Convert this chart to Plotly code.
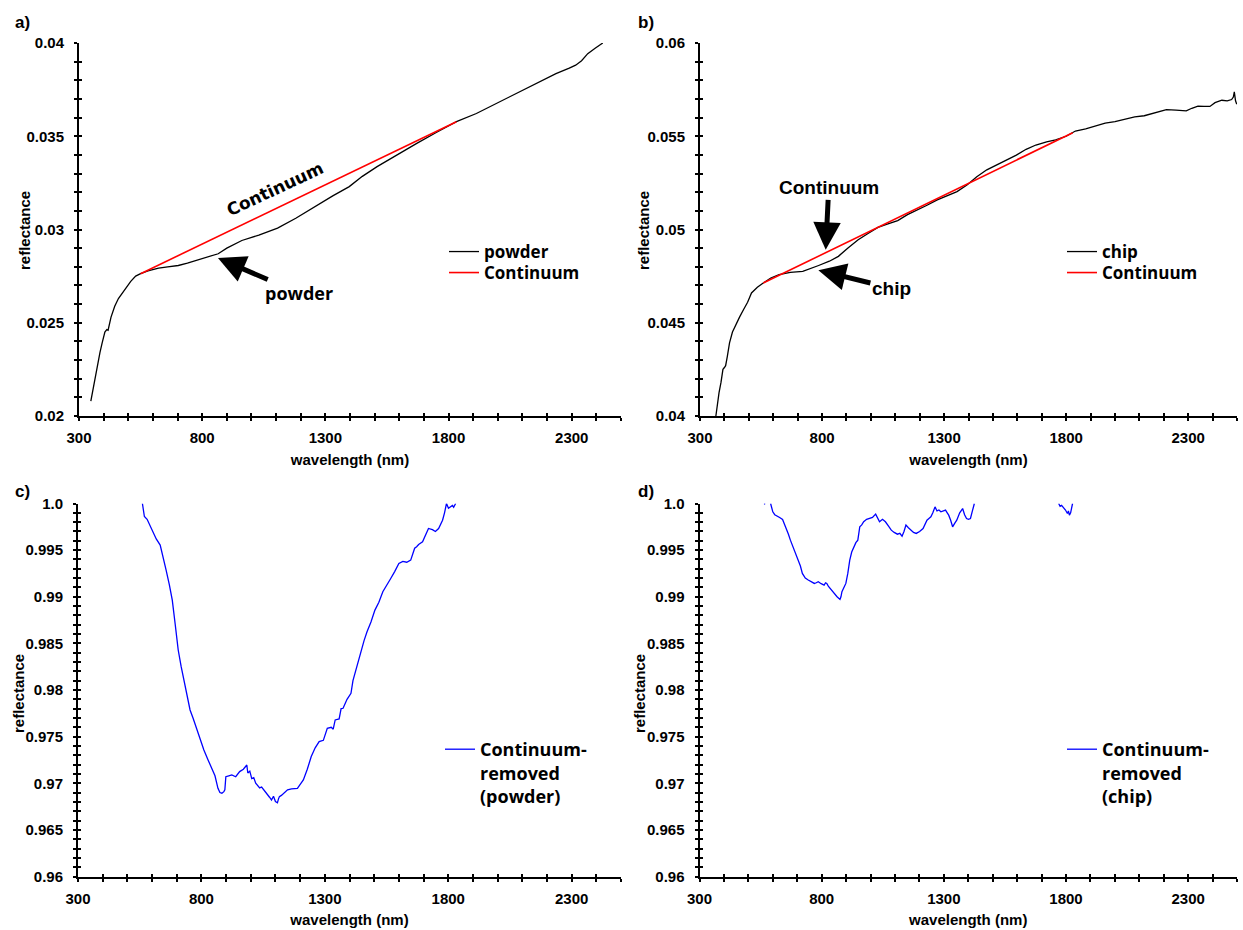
import plotly.graph_objects as go

# ---------------- data ----------------
# a) powder spectrum
powder_nm = [348, 360, 373, 385, 394, 405, 413, 418, 430, 445, 460, 477, 495, 510, 530, 550,
             580, 623, 660, 703, 740, 784, 820, 865, 900, 961, 1030, 1106, 1180, 1268, 1330,
             1397, 1450, 1510, 1590, 1671, 1750, 1832, 1913, 2000, 2074, 2150, 2236, 2290,
             2316, 2340, 2365, 2395, 2426]
powder_refl = [0.0208, 0.0217, 0.02267, 0.0234, 0.02392, 0.0245, 0.02463, 0.0246, 0.0253,
               0.02588, 0.0263, 0.0266, 0.0269, 0.02722, 0.0275, 0.02763, 0.02778, 0.02793,
               0.02800, 0.02807, 0.02820, 0.02838, 0.02852, 0.02870, 0.02900, 0.02941,
               0.02970, 0.03007, 0.03060, 0.03132, 0.03180, 0.03230, 0.03285, 0.03337,
               0.03400, 0.03462, 0.03520, 0.03578, 0.03622, 0.03680, 0.03729, 0.03780,
               0.03836, 0.03865, 0.03881, 0.03905, 0.03943, 0.03972, 0.04000]
cont_a_nm = [550, 1832]
cont_a_refl = [0.02763, 0.03578]

# b) chip spectrum
chip_nm = [365, 372, 378, 386, 394, 400, 405, 412, 421, 433, 446, 462, 478, 495, 511, 535,
           559, 590, 624, 670, 721, 755, 786, 830, 867, 905, 948, 990, 1029, 1070, 1110,
           1150, 1191, 1230, 1272, 1310, 1353, 1395, 1434, 1475, 1515, 1555, 1596, 1636,
           1676, 1720, 1757, 1800, 1838, 1880, 1919, 1960, 2000, 2040, 2081, 2120, 2162,
           2211, 2250, 2292, 2315, 2340, 2365, 2389, 2410, 2438, 2460, 2478, 2485, 2489,
           2494, 2499]
chip_refl = [0.0400, 0.0408, 0.04125, 0.0418, 0.0425, 0.0426, 0.0427, 0.0432, 0.04392,
             0.0445, 0.0449, 0.0453, 0.0457, 0.0461, 0.0466, 0.0469, 0.04713, 0.0474,
             0.04758, 0.0477, 0.04775, 0.0479, 0.04807, 0.0483, 0.04856, 0.0490, 0.04945,
             0.0498, 0.05011, 0.0503, 0.05048, 0.0508, 0.05105, 0.0513, 0.05159, 0.0518,
             0.05203, 0.0524, 0.05283, 0.0532, 0.05346, 0.0537, 0.05399, 0.0543, 0.05453,
             0.0547, 0.05480, 0.0550, 0.05528, 0.0554, 0.05554, 0.0557, 0.05578, 0.0559,
             0.05604, 0.0561, 0.05626, 0.05643, 0.0564, 0.05636, 0.0565, 0.05661, 0.0566,
             0.0566, 0.0568, 0.05693, 0.0569, 0.05697, 0.0571, 0.05738, 0.0569, 0.05672]
cont_b_nm = [559, 1827]
cont_b_refl = [0.04713, 0.05519]

# c) continuum-removed (powder)
crp_nm = [561, 565, 569, 580, 593, 605, 617, 633, 645, 657, 670, 682, 694, 706, 718, 730,
          742, 754, 766, 778, 794, 810, 827, 843, 855, 867, 875, 883, 891, 895, 899, 911,
          923, 939, 955, 970, 978, 984, 988, 996, 1004, 1012, 1020, 1028, 1036, 1044, 1052,
          1060, 1068, 1076, 1084, 1092, 1100, 1108, 1112, 1116, 1124, 1132, 1149, 1165,
          1189, 1201, 1213, 1229, 1245, 1261, 1277, 1294, 1310, 1326, 1334, 1342, 1358,
          1366, 1374, 1390, 1406, 1414, 1422, 1434, 1447, 1459, 1471, 1487, 1503, 1519,
          1535, 1551, 1567, 1583, 1600, 1616, 1632, 1648, 1656, 1664, 1672, 1680, 1696,
          1704, 1712, 1720, 1736, 1748, 1761, 1769, 1777, 1785, 1793, 1801, 1809, 1817,
          1822, 1830]
crp_refl = [1.0000, 0.99893, 0.99860, 0.99830, 0.99760, 0.99700, 0.99620, 0.99554, 0.99430,
            0.99286, 0.99130, 0.98964, 0.98700, 0.98429, 0.98250, 0.98107, 0.97950, 0.97786,
            0.97700, 0.97607, 0.97480, 0.97357, 0.97250, 0.97143, 0.97080, 0.96946, 0.96900,
            0.96893, 0.96910, 0.96929, 0.97071, 0.97080, 0.97089, 0.97070, 0.97125, 0.97150,
            0.97180, 0.97196, 0.97110, 0.97130, 0.97050, 0.97060, 0.97000, 0.96980, 0.96950,
            0.96960, 0.96929, 0.96900, 0.96880, 0.96850, 0.96821, 0.96860, 0.96804, 0.96790,
            0.96830, 0.96857, 0.96870, 0.96890, 0.96929, 0.96940, 0.96946, 0.96990, 0.97036,
            0.97150, 0.97286, 0.97380, 0.97446, 0.97460, 0.97589, 0.97600, 0.97580, 0.97679,
            0.97690, 0.97800, 0.97804, 0.97900, 0.97964, 0.98100, 0.98179, 0.98300, 0.98429,
            0.98530, 0.98625, 0.98730, 0.98857, 0.98940, 0.99054, 0.99120, 0.99196, 0.99270,
            0.99357, 0.99380, 0.99370, 0.99393, 0.99470, 0.99520, 0.99536, 0.99560, 0.99589,
            0.99640, 0.99700, 0.99732, 0.99720, 0.99700, 0.99732, 0.99780, 0.99821, 0.99900,
            1.00000, 0.99950, 0.99964, 0.99980, 0.99960, 1.00000]

# d) continuum-removed (chip); None marks the parts lying above 1.0
crc_nm = [565, 568, None, 591, 600, 608, 616, 628, 640, 648, 656, 664, 672, 680, 689, 697,
          705, 713, 721, 733, 745, 758, 770, 778, 786, 798, 810, 816, 821, 828, 834, 843,
          851, 863, 875, 879, 883, 891, 899, 907, 915, 923, 932, 940, 948, 956, 964, 972,
          984, 996, 1008, 1021, 1029, 1037, 1049, 1061, 1073, 1085, 1097, 1110, 1120, 1129,
          1137, 1145, 1155, 1166, 1176, 1187, 1201, 1215, 1223, 1231, 1239, 1247, 1255,
          1264, 1272, 1280, 1288, 1298, 1307, 1314, 1320, 1328, 1336, 1345, 1353, 1365,
          1377, 1385, 1393, 1401, 1409, 1417, 1425, None, 1770, 1776, 1782, 1790, 1798,
          1806, 1810, 1814, 1819, 1823, 1827]
crc_refl = [1.0000, 0.9999, None, 1.0000, 0.99911, 0.99880, 0.99864, 0.99850, 0.99829,
            0.99780, 0.99732, 0.99670, 0.99607, 0.99550, 0.99500, 0.99450, 0.99393, 0.99330,
            0.99250, 0.99200, 0.99179, 0.99160, 0.99143, 0.99150, 0.99161, 0.99140, 0.99125,
            0.99150, 0.99143, 0.99110, 0.99089, 0.99060, 0.99036, 0.99000, 0.98971, 0.99000,
            0.99054, 0.99100, 0.99143, 0.99250, 0.99393, 0.99480, 0.99536, 0.99580, 0.99607,
            0.99750, 0.99770, 0.99804, 0.99830, 0.99839, 0.99850, 0.99886, 0.99840, 0.99804,
            0.99830, 0.99804, 0.99760, 0.99714, 0.99690, 0.99671, 0.99680, 0.99650, 0.99700,
            0.99768, 0.99740, 0.99714, 0.99690, 0.99679, 0.99700, 0.99732, 0.99780, 0.99821,
            0.99840, 0.99857, 0.99900, 0.99964, 0.99920, 0.99930, 0.99911, 0.99920, 0.99929,
            0.99900, 0.99875, 0.99820, 0.99750, 0.99790, 0.99821, 0.99900, 0.99946, 0.99880,
            0.99839, 0.99830, 0.99839, 0.99920, 1.00000, None, 1.0000, 0.99970, 0.99980,
            0.99960, 0.99930, 0.99893, 0.99920, 0.99875, 0.99900, 0.99950, 1.00000]

x_range = [300, 2500]
x_major_ticks = [300, 800, 1300, 1800, 2300]
y_ranges = {1: [0.02, 0.04], 2: [0.04, 0.06], 3: [0.96, 1.0], 4: [0.96, 1.0]}
y_tick_vals = {
    1: [0.02, 0.025, 0.03, 0.035, 0.04],
    2: [0.04, 0.045, 0.05, 0.055, 0.06],
    3: [0.96, 0.965, 0.97, 0.975, 0.98, 0.985, 0.99, 0.995, 1.0],
    4: [0.96, 0.965, 0.97, 0.975, 0.98, 0.985, 0.99, 0.995, 1.0],
}
y_tick_text = {
    1: ["0.02", "0.025", "0.03", "0.035", "0.04"],
    2: ["0.04", "0.045", "0.05", "0.055", "0.06"],
    3: ["0.96", "0.965", "0.97", "0.975", "0.98", "0.985", "0.99", "0.995", "1.0"],
    4: ["0.96", "0.965", "0.97", "0.975", "0.98", "0.985", "0.99", "0.995", "1.0"],
}
y_minor = {1: 0.001, 2: 0.001, 3: 0.001, 4: 0.001}
panel_letters = ["a)", "b)", "c)", "d)"]

# ---------------- layout geometry ----------------
W, H = 1243, 930
def px_x(a, b):
    return [a / W, b / W]
def px_y(top, bottom):
    return [(H - bottom) / H, (H - top) / H]

x_domains = {1: px_x(79, 621), 2: px_x(700, 1237), 3: px_x(78, 621), 4: px_x(699.5, 1237)}
y_domains = {1: px_y(43, 416), 2: px_y(43, 416), 3: px_y(503.5, 876.5), 4: px_y(503.5, 876.5)}
y_title_pos = {1: (24, 231), 2: (643, 231), 3: (18, 694), 4: (639, 694)}
letter_pos = {1: (22, 22), 2: (646, 22), 3: (22, 491), 4: (646, 491)}

ARIAL = "Liberation Sans, Arial, sans-serif"
SEGOE = "Open Sans, Noto Sans, sans-serif"
TICK_FONT = dict(family=ARIAL, size=15, color="black", weight="bold")
TITLE_FONT = dict(family=ARIAL, size=15, color="black", weight="bold")
LEG_FONT = dict(family=SEGOE, size=17, color="black", weight="bold")
LEG_FONT_ML = dict(family=SEGOE, size=18, color="black", weight="bold")

fig = go.Figure()

def add(xs, ys, color, name, idx, legend, width=1.3):
    fig.add_trace(go.Scatter(
        x=xs, y=ys, mode="lines", name=name,
        line=dict(color=color, width=width),
        xaxis="x" if idx == 1 else f"x{idx}",
        yaxis="y" if idx == 1 else f"y{idx}",
        legend=legend, showlegend=True, connectgaps=False,
    ))

add(powder_nm, powder_refl, "black", "powder", 1, "legend")
add(cont_a_nm, cont_a_refl, "#ff0000", "Continuum", 1, "legend2", width=1.6)
add(chip_nm, chip_refl, "black", "chip", 2, "legend3")
add(cont_b_nm, cont_b_refl, "#ff0000", "Continuum", 2, "legend4", width=1.6)
add(crp_nm, crp_refl, "#0000ff", "Continuum-<br>removed<br>(powder)", 3, "legend5")
add(crc_nm, crc_refl, "#0000ff", "Continuum-<br>removed<br>(chip)", 4, "legend6")

# empty carriers for the inside half of the crossing ticks
for i in range(1, 5):
    j = i + 4
    fig.add_trace(go.Scatter(x=[], y=[], xaxis=f"x{j}", yaxis=f"y{j}",
                             showlegend=False, hoverinfo="skip"))

layout = dict(
    width=W, height=H, margin=dict(l=0, r=0, t=0, b=0, autoexpand=False),
    paper_bgcolor="white", plot_bgcolor="white",
)

for i in range(1, 5):
    xn = "xaxis" if i == 1 else f"xaxis{i}"
    yn = "yaxis" if i == 1 else f"yaxis{i}"
    xa = "x" if i == 1 else f"x{i}"
    ya = "y" if i == 1 else f"y{i}"
    layout[xn] = dict(
        domain=x_domains[i], anchor=ya, range=x_range, automargin=False,
        showline=True, linecolor="black", linewidth=2, showgrid=False, zeroline=False,
        tickmode="array", tickvals=x_major_ticks,
        ticks="outside", ticklen=3, tickwidth=2, tickcolor="black",
        minor=dict(tickmode="linear", tick0=300, dtick=100, ticks="outside",
                   ticklen=3, tickwidth=2, tickcolor="black", showgrid=False),
        tickfont=TICK_FONT, ticklabelstandoff=4,
        title=dict(text="wavelength (nm)", font=TITLE_FONT, standoff=9),
    )
    layout[yn] = dict(
        domain=y_domains[i], anchor=xa, range=y_ranges[i], automargin=False,
        showline=True, linecolor="black", linewidth=2, showgrid=False, zeroline=False,
        tickmode="array", tickvals=y_tick_vals[i], ticktext=y_tick_text[i],
        ticks="outside", ticklen=3, tickwidth=2, tickcolor="black",
        minor=dict(tickmode="linear", tick0=y_ranges[i][0], dtick=y_minor[i], ticks="outside",
                   ticklen=3, tickwidth=2, tickcolor="black", showgrid=False),
        tickfont=TICK_FONT, ticklabelstandoff=7,
    )
    j = i + 4
    layout[f"xaxis{j}"] = dict(
        overlaying=xa, anchor=f"y{j}", range=x_range, side="bottom", automargin=False,
        showline=False, showgrid=False, zeroline=False, showticklabels=False,
        tickmode="array", tickvals=x_major_ticks,
        ticks="inside", ticklen=3, tickwidth=2, tickcolor="black",
        minor=dict(tickmode="linear", tick0=300, dtick=100, ticks="inside",
                   ticklen=3, tickwidth=2, tickcolor="black", showgrid=False),
    )
    layout[f"yaxis{j}"] = dict(
        overlaying=ya, anchor=f"x{j}", range=y_ranges[i], side="left", automargin=False,
        showline=False, showgrid=False, zeroline=False, showticklabels=False,
        tickmode="array", tickvals=y_tick_vals[i],
        ticks="inside", ticklen=3, tickwidth=2, tickcolor="black",
        minor=dict(tickmode="linear", tick0=y_ranges[i][0], dtick=y_minor[i], ticks="inside",
                   ticklen=3, tickwidth=2, tickcolor="black", showgrid=False),
    )

def leg(xpx, ypx, font):
    return dict(x=xpx / W, y=(H - ypx) / H, xanchor="left", yanchor="top",
                bgcolor="rgba(0,0,0,0)", font=font, tracegroupgap=0,
                itemwidth=30, valign="top")

layout["legend"] = leg(444, 234, LEG_FONT)
layout["legend2"] = leg(444, 255, LEG_FONT)
layout["legend3"] = leg(1062, 234, LEG_FONT)
layout["legend4"] = leg(1062, 255, LEG_FONT)
layout["legend5"] = leg(440, 731, LEG_FONT_ML)
layout["legend6"] = leg(1062, 731, LEG_FONT_ML)

fig.update_layout(**layout)

LETTER_FONT = dict(family=ARIAL, size=17, color="black", weight="bold")
ROT_FONT = dict(family="DejaVu Sans, Verdana, sans-serif", size=17, color="black", weight="bold")
ANN_SEGOE = dict(family=SEGOE, size=18, color="black", weight="bold")
ANN_ARIAL = dict(family=ARIAL, size=19, color="black", weight="bold")
ARROW = dict(showarrow=True, arrowhead=2, arrowsize=1.1, arrowwidth=5, arrowcolor="black")

annotations = []
for i in range(1, 5):
    lx, ly = letter_pos[i]
    annotations.append(dict(text=panel_letters[i - 1], x=lx / W, y=(H - ly) / H,
                            xref="paper", yref="paper", xanchor="center", yanchor="middle",
                            showarrow=False, font=LETTER_FONT))
    tx, ty = y_title_pos[i]
    annotations.append(dict(text="reflectance", x=tx / W, y=(H - ty) / H,
                            xref="paper", yref="paper", xanchor="center", yanchor="middle",
                            textangle=-90, showarrow=False, font=TITLE_FONT))

annotations += [
    dict(text="Continuum", x=1095, y=0.03215, xref="x", yref="y", showarrow=False,
         textangle=-25, font=ROT_FONT),
    dict(text="powder", x=864, y=0.02847, xref="x", yref="y", ax=81, ay=35, font=ANN_SEGOE, **ARROW),
    dict(text="Continuum", x=815, y=0.04891, xref="x2", yref="y2", ax=3, ay=-62, font=ANN_ARIAL, **ARROW),
    dict(text="chip", x=785, y=0.04782, xref="x2", yref="y2", ax=73, ay=18, font=ANN_ARIAL, **ARROW),
]
fig.update_layout(annotations=annotations)

fig.write_html("out.html")
